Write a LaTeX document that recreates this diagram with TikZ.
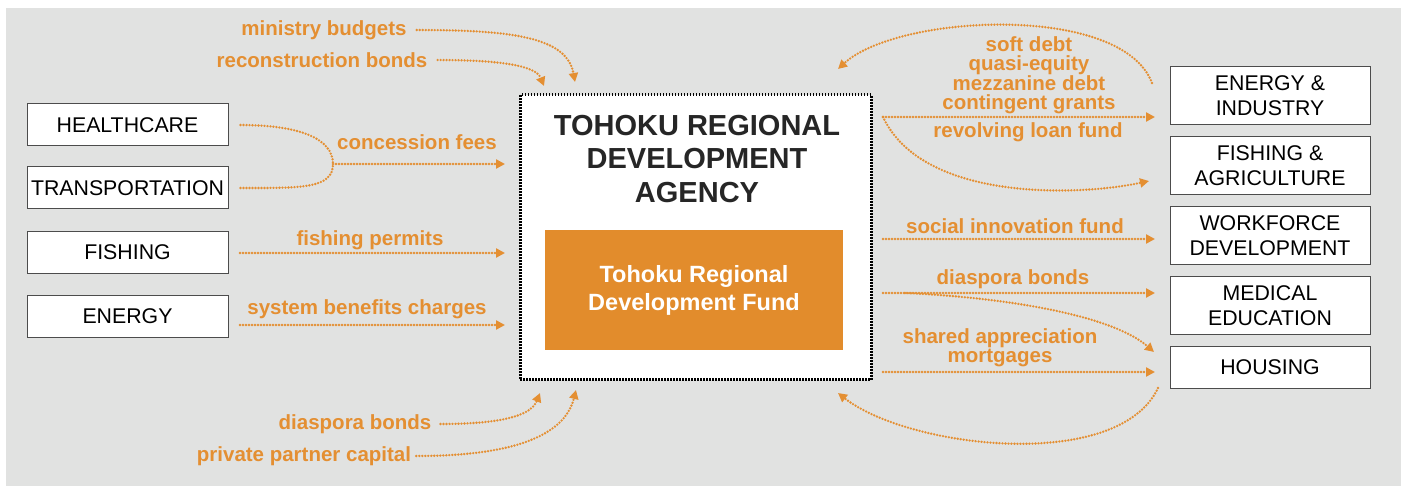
\documentclass[tikz,border=0pt]{standalone}
\usepackage{fontspec}
\setmainfont{Liberation Sans}
\usetikzlibrary{arrows.meta,calc}
\definecolor{bg}{RGB}{225,226,225}
\definecolor{org}{RGB}{228,143,50}
\definecolor{fundc}{RGB}{226,140,44}
\begin{document}
\begin{tikzpicture}[x=1pt,y=-1pt,
  lbox/.style={draw=black!70,line width=1pt,fill=white,minimum width=201pt,minimum height=42pt,inner sep=0pt,font=\fontsize{21.3}{25}\selectfont,align=center},
  rbox/.style={lbox,minimum width=200pt,minimum height=58pt},
  lab/.style={text=org,font=\bfseries\fontsize{20.5}{18.7}\selectfont,align=center,inner sep=0pt},
  flow/.style={draw=org,line width=2.6pt,dash pattern=on 0pt off 3pt,line cap=round,-{Triangle[length=9pt,width=9pt]}},
  plain/.style={draw=org,line width=2.6pt,dash pattern=on 0pt off 3pt,line cap=round},
]
\fill[white] (0,0) rectangle (1401,486);
\fill[bg] (6,8) rectangle (1401,486);

% left boxes
\node[lbox] (hc) at (127.5,125) {HEALTHCARE};
\node[lbox] (tr) at (127.5,188) {TRANSPORTATION};
\node[lbox] (fi) at (127.5,252.5) {FISHING};
\node[lbox] (en) at (127.5,316.5) {ENERGY};

% central agency
\node[draw=black,line width=3pt,dash pattern=on 1.5pt off 1.5pt,fill=white,minimum width=351pt,minimum height=285pt,inner sep=0pt] (ag) at (695.5,237.5) {};
\node[font=\bfseries\fontsize{29}{33.5}\selectfont,align=center,text=black!85] (title) at (697,159) {TOHOKU REGIONAL\\DEVELOPMENT\\AGENCY};
\node[fill=fundc,minimum width=298pt,minimum height=120pt,inner sep=0pt,text=white,font=\bfseries\fontsize{23.5}{28}\selectfont,align=center] (fund) at (694,290) {Tohoku Regional\\Development Fund};

% right boxes
\node[rbox] (ei) at (1270,96) {ENERGY \&\\INDUSTRY};
\node[rbox] (fa) at (1270,166) {FISHING \&\\AGRICULTURE};
\node[rbox] (wd) at (1270,236) {WORKFORCE\\DEVELOPMENT};
\node[rbox] (me) at (1270,306) {MEDICAL\\EDUCATION};
\node[lbox,minimum width=200pt] (ho) at (1270,367.5) {HOUSING};

% left labels
\node[lab] (mb) at (324,30) {ministry budgets};
\node[lab] (rb) at (322,60) {reconstruction bonds};
\node[lab] (cf) at (417,142) {concession fees};
\node[lab] (fp) at (370,240) {fishing permits};
\node[lab] (sb) at (367,309) {system benefits charges};
\node[lab] (db) at (355,424) {diaspora bonds};
\node[lab] (pp) at (304,456) {private partner capital};

% right labels
\node[lab] (sd) at (1029,75) {soft debt\\quasi-equity\\mezzanine debt\\contingent grants};
\node[lab] (rl) at (1028,132) {revolving loan fund};
\node[lab] (si) at (1015,226) {social innovation fund};
\node[lab] (db2) at (1013,279) {diaspora bonds};
\node[lab] (sa) at (1000,348) {shared appreciation\\mortgages};

% coordinates
\coordinate (mbT) at (575,82);
\coordinate (rbT) at (544,86);
\coordinate (dbT) at (540,393);
\coordinate (ppT) at (576,390);
\coordinate (join) at (333,164);
\coordinate (cfT) at (505,164);
\coordinate (fpS) at (240,253);
\coordinate (fpT) at (505,253);
\coordinate (sbS) at (240,325);
\coordinate (sbT) at (505,325);
\coordinate (rS) at (883,117);
\coordinate (eiT) at (1155,117);
\coordinate (faT) at (1149,181);
\coordinate (arcS) at (1152,83);
\coordinate (arcT) at (838,69);
\coordinate (siS) at (883,239);
\coordinate (wdT) at (1155,239);
\coordinate (dS) at (883,293);
\coordinate (meT) at (1155,293);
\coordinate (hoT1) at (1154,352);
\coordinate (mS) at (883,372);
\coordinate (hoT2) at (1155,372);
\coordinate (barcS) at (1158,388);
\coordinate (barcT) at (838,393);

% left connectors
\draw[flow] ([xshift=10pt]mb.east) .. controls +(95,0) and +(-8,-45) .. (mbT);
\draw[flow] ([xshift=10pt]rb.east) .. controls +(65,0) and +(-8,-20) .. (rbT);
\draw[plain] ([xshift=12pt]hc.east) .. controls +(60,0) and +(0,-25) .. (join);
\draw[plain] ([xshift=12pt]tr.east) .. controls +(60,0) and +(0,25) .. (join);
\draw[flow] (join) -- (cfT);
\draw[flow] (fpS) -- (fpT);
\draw[flow] (sbS) -- (sbT);
\draw[flow] ([xshift=9pt]db.east) .. controls +(70,0) and +(-8,20) .. (dbT);
\draw[flow] ([xshift=5pt]pp.east) .. controls +(110,0) and +(-10,40) .. (ppT);

% right connectors
\draw[flow] (rS) -- (eiT);
\draw[flow] (rS) .. controls +(40,85) and +(-70,15) .. (faT);
\draw[flow] (arcS) .. controls +(-30,-80) and +(60,-55) .. (arcT);
\draw[flow] (siS) -- (wdT);
\draw[flow] (dS) -- (meT);
\draw[flow] ([xshift=22pt]dS) .. controls +(110,5) and +(-40,-35) .. (hoT1);
\draw[flow] (mS) -- (hoT2);
\draw[flow] (barcS) .. controls +(-40,85) and +(70,55) .. (barcT);
\end{tikzpicture}
\end{document}
